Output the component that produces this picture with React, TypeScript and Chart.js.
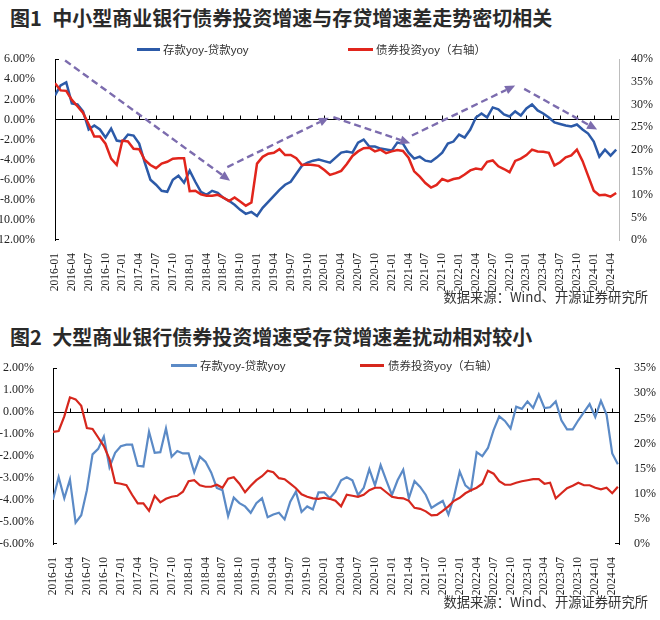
import React, { useEffect, useRef } from "react";
import { Chart, registerables } from "chart.js";

Chart.register(...registerables);

// ---------- data ----------
const months = [
  "2016-01","2016-02","2016-03","2016-04","2016-05","2016-06","2016-07","2016-08","2016-09","2016-10","2016-11","2016-12",
  "2017-01","2017-02","2017-03","2017-04","2017-05","2017-06","2017-07","2017-08","2017-09","2017-10","2017-11","2017-12",
  "2018-01","2018-02","2018-03","2018-04","2018-05","2018-06","2018-07","2018-08","2018-09","2018-10","2018-11","2018-12",
  "2019-01","2019-02","2019-03","2019-04","2019-05","2019-06","2019-07","2019-08","2019-09","2019-10","2019-11","2019-12",
  "2020-01","2020-02","2020-03","2020-04","2020-05","2020-06","2020-07","2020-08","2020-09","2020-10","2020-11","2020-12",
  "2021-01","2021-02","2021-03","2021-04","2021-05","2021-06","2021-07","2021-08","2021-09","2021-10","2021-11","2021-12",
  "2022-01","2022-02","2022-03","2022-04","2022-05","2022-06","2022-07","2022-08","2022-09","2022-10","2022-11","2022-12",
  "2023-01","2023-02","2023-03","2023-04","2023-05","2023-06","2023-07","2023-08","2023-09","2023-10","2023-11","2023-12",
  "2024-01","2024-02","2024-03","2024-04","2024-05",
];

// Figure 1: small & medium banks
const c1Spread = [2.4, 3.4, 3.7, 1.6, 1.5, 0.8, -1.0, -0.6, -1.0, -1.8, -0.9, -2.1, -2.2, -1.5, -1.6, -2.4, -4.3, -6.0, -6.5, -7.1, -7.2, -6.0, -5.6, -6.3, -5.1, -6.2, -7.2, -7.5, -7.1, -7.3, -7.8, -8.1, -8.5, -9.0, -9.4, -9.2, -9.6, -8.8, -8.2, -7.6, -7.0, -6.5, -6.2, -5.4, -4.6, -4.3, -4.1, -4.0, -4.15, -4.3, -3.8, -3.3, -3.2, -3.3, -2.3, -2.0, -2.7, -2.7, -2.9, -3.0, -3.1, -2.3, -2.4, -3.3, -3.9, -3.7, -4.1, -4.2, -3.8, -3.3, -2.4, -2.2, -1.5, -1.8, -1.0, 0.2, 0.6, 0.2, 1.2, 1.0, 0.5, 0.3, 0.8, 0.4, 1.1, 1.5, 0.9, 0.6, 0.2, -0.3, -0.45, -0.6, -0.7, -0.5, -1.0, -1.4, -2.2, -3.7, -3.0, -3.6, -3.0];
const c1Bond = [34.7, 33.1, 33.0, 31.0, 29.6, 28.1, 25.6, 22.9, 22.9, 21.3, 18.0, 16.6, 22.0, 21.8, 20.2, 20.1, 17.7, 16.6, 15.9, 16.9, 17.3, 18.0, 18.1, 18.1, 10.8, 10.9, 10.1, 9.8, 9.8, 10.0, 9.4, 8.6, 9.4, 8.5, 7.6, 8.3, 16.9, 18.4, 19.1, 19.3, 20.1, 18.8, 18.8, 18.1, 16.6, 16.7, 16.6, 16.4, 15.5, 14.4, 14.8, 15.3, 16.8, 18.6, 19.6, 20.3, 20.4, 19.6, 20.0, 19.2, 19.6, 19.9, 19.7, 18.2, 15.2, 14.0, 12.6, 11.6, 12.2, 13.5, 13.0, 13.5, 13.7, 14.5, 15.4, 15.8, 15.6, 17.3, 17.6, 16.3, 15.7, 15.0, 17.5, 18.0, 18.8, 20.0, 19.6, 19.5, 19.3, 16.5, 17.2, 18.3, 18.7, 20.0, 17.5, 14.2, 10.9, 9.9, 10.0, 9.6, 10.4];

// Figure 2: large banks
const c2Spread = [-3.99, -2.96, -3.92, -3.06, -5.03, -4.69, -3.55, -1.92, -1.67, -1.11, -2.51, -1.85, -1.55, -1.48, -1.48, -2.44, -2.47, -0.89, -1.85, -1.82, -0.74, -2.03, -1.77, -1.88, -1.88, -2.74, -2.03, -2.26, -2.74, -3.45, -3.55, -4.73, -3.89, -4.14, -4.29, -4.58, -4.14, -3.92, -4.78, -4.66, -4.58, -4.88, -4.07, -3.62, -4.54, -4.29, -4.43, -3.65, -3.65, -3.92, -3.62, -3.10, -2.96, -3.10, -3.77, -3.45, -2.59, -3.33, -2.41, -3.10, -3.77, -3.10, -2.62, -3.92, -3.14, -3.40, -3.77, -4.36, -4.19, -4.04, -4.66, -3.84, -2.71, -3.33, -3.55, -1.82, -2.00, -1.63, -0.82, -0.19, -0.40, -0.74, 0.25, 0.15, 0.49, 0.19, 0.81, 0.19, 0.22, 0.49, -0.37, -0.78, -0.78, -0.37, 0.0, 0.37, -0.22, 0.51, -0.11, -1.88, -2.37];
const c2Bond = [22.3, 22.5, 25.4, 29.2, 28.8, 27.5, 23.1, 22.9, 21.2, 19.5, 16.9, 12.2, 12.0, 11.7, 9.8, 8.1, 8.1, 6.6, 9.6, 8.3, 9.0, 9.4, 9.6, 10.4, 12.5, 12.7, 11.7, 11.4, 11.4, 11.8, 11.2, 13.0, 13.3, 12.0, 10.3, 11.6, 12.7, 13.5, 14.6, 14.3, 13.1, 12.9, 12.0, 11.1, 9.9, 9.4, 9.1, 9.0, 9.2, 9.0, 8.6, 7.5, 9.8, 9.6, 9.4, 9.8, 10.7, 11.2, 11.2, 10.3, 9.4, 9.2, 9.1, 8.6, 7.2, 7.0, 6.5, 5.7, 5.8, 6.6, 7.5, 8.6, 9.2, 10.1, 10.7, 11.2, 12.0, 14.6, 14.0, 12.5, 11.8, 11.8, 12.2, 12.5, 12.7, 12.9, 12.9, 12.0, 12.2, 9.1, 10.1, 11.1, 11.6, 12.2, 11.7, 11.7, 11.2, 10.9, 11.2, 10.1, 11.4];

// tick labels (as printed in the source figure)
const c1LeftValues = [6, 4, 2, 0, -2, -4, -6, -8, -10, -12];
const c1LeftLabels = ["6.00%", "4.00%", "2.00%", "0.00%", "-2.00%", "-4.00%", "-6.00%", "-8.00%", "10.00%", "12.00%"];
const c1RightValues = [40, 35, 30, 25, 20, 15, 10, 5, 0];
const c1RightLabels = ["40%", "35%", "30%", "25%", "20%", "15%", "10%", "5%", "0%"];
const c2LeftValues = [2, 1, 0, -1, -2, -3, -4, -5, -6];
const c2LeftLabels = ["2.00%", "1.00%", "0.00%", "-1.00%", "-2.00%", "-3.00%", "-4.00%", "-5.00%", "-6.00%"];
const c2RightValues = [35, 30, 25, 20, 15, 10, 5, 0];
const c2RightLabels = ["35%", "30%", "25%", "20%", "15%", "10%", "5%", "0%"];

const seriesNames = ["存款yoy-贷款yoy", "债券投资yoy（右轴）"];
const title1 = "图1 中小型商业银行债券投资增速与存贷增速差走势密切相关";
const title2 = "图2 大型商业银行债券投资增速受存贷增速差扰动相对较小";
const sourceText = "数据来源：Wind、开源证券研究所";

// trend arrows of figure 1: [start month index, start left-axis value, end month index, end left-axis value]
const c1Arrows = [
  [1.8, 5.87, 31.2, -6.1],
  [30.7, -4.74, 48.8, 0.18],
  [49.6, 0.22, 63.3, -2.37],
  [63.6, -1.6, 82.0, 3.37],
  [83.6, 3.05, 96.6, -1.01],
];

// ---------- chart helpers ----------
const labelIdx = months.map((_, i) => i).filter((i) => i % 3 === 0);
const serif = '"Liberation Serif", "Times New Roman", serif';

function makeDecor(cfg: any) {
  return {
    id: "decor",
    beforeDatasetsDraw(chart: any) {
      const { ctx, chartArea: ca, scales } = chart;
      const y0 = Math.round(scales.yL.getPixelForValue(0)) + 0.5;
      ctx.save();
      ctx.strokeStyle = "#000";
      ctx.lineWidth = 1;
      ctx.beginPath();
      ctx.moveTo(ca.left, y0);
      ctx.lineTo(ca.right, y0);
      for (const v of labelIdx) {
        if (v === 0) continue;
        const x = Math.round(scales.x.getPixelForValue(v)) + 0.5;
        ctx.moveTo(x, y0);
        ctx.lineTo(x, y0 - 4);
      }
      const t = Math.round(ca.top) + 0.5;
      const b = Math.round(ca.bottom) - 0.5;
      ctx.moveTo(ca.left, t);
      ctx.lineTo(ca.left + 4, t);
      ctx.moveTo(ca.left, b);
      ctx.lineTo(ca.left + 4, b);
      if (cfg.rightEndTicks) {
        ctx.moveTo(ca.right, t);
        ctx.lineTo(ca.right - 4, t);
        ctx.moveTo(ca.right, b);
        ctx.lineTo(ca.right - 4, b);
      }
      ctx.stroke();
      ctx.restore();
    },
    afterDatasetsDraw(chart: any) {
      if (!cfg.arrows) return;
      const { ctx, scales } = chart;
      ctx.save();
      ctx.strokeStyle = "#7c6cae";
      ctx.fillStyle = "#7c6cae";
      ctx.lineWidth = 2.4;
      for (const a of cfg.arrows) {
        const x1 = scales.x.getPixelForValue(a[0]);
        const y1 = scales.yL.getPixelForValue(a[1]);
        const x2 = scales.x.getPixelForValue(a[2]);
        const y2 = scales.yL.getPixelForValue(a[3]);
        const ang = Math.atan2(y2 - y1, x2 - x1);
        const c = Math.cos(ang), s = Math.sin(ang);
        const hl = 10, hw = 4.5;
        const bx = x2 - hl * c, by = y2 - hl * s;
        ctx.setLineDash([7, 4]);
        ctx.beginPath();
        ctx.moveTo(x1, y1);
        ctx.lineTo(bx, by);
        ctx.stroke();
        ctx.setLineDash([]);
        ctx.beginPath();
        ctx.moveTo(x2, y2);
        ctx.lineTo(bx - hw * s, by + hw * c);
        ctx.lineTo(bx + hw * s, by - hw * c);
        ctx.closePath();
        ctx.fill();
      }
      ctx.restore();
    },
  };
}

function lookup(values: number[], labels: string[]) {
  return (v: any) => {
    const i = values.findIndex((x) => Math.abs(x - Number(v)) < 1e-6);
    return i >= 0 ? labels[i] : "";
  };
}

function LineChart({ cfg }: { cfg: any }) {
  const ref = useRef<HTMLCanvasElement>(null);
  useEffect(() => {
    const font = { family: serif, size: 12 };
    const chart = new Chart(ref.current as HTMLCanvasElement, {
      type: "line",
      data: {
        datasets: [
          {
            label: seriesNames[0],
            data: cfg.spread.map((y: number, i: number) => ({ x: i, y })),
            yAxisID: "yL",
            borderColor: cfg.blue,
            borderWidth: cfg.lw,
            pointRadius: 0,
            tension: 0,
            order: 1,
          },
          {
            label: seriesNames[1],
            data: cfg.bond.map((y: number, i: number) => ({ x: i, y })),
            yAxisID: "yR",
            borderColor: cfg.red,
            borderWidth: cfg.lw,
            pointRadius: 0,
            tension: 0,
            order: 0,
          },
        ],
      },
      options: {
        responsive: false,
        animation: false,
        devicePixelRatio: 1,
        layout: { padding: { top: cfg.topPad, left: 0, right: 0, bottom: 0 } },
        plugins: { legend: { display: false }, tooltip: { enabled: false } },
        scales: {
          x: {
            type: "linear",
            min: 0,
            max: cfg.xMax,
            afterBuildTicks: (s: any) => {
              s.ticks = labelIdx.map((v) => ({ value: v }));
            },
            afterFit: (s: any) => {
              s.height = cfg.xHeight;
            },
            ticks: {
              autoSkip: false,
              minRotation: 90,
              maxRotation: 90,
              padding: 5,
              font: { family: serif, size: 11.5 },
              color: "#222",
              callback: (v: any) => months[Math.round(Number(v))] ?? "",
            },
            grid: { display: false },
            border: { display: false },
          },
          yL: {
            position: "left",
            min: cfg.lMin,
            max: cfg.lMax,
            afterFit: (s: any) => {
              s.width = cfg.lWidth;
            },
            ticks: {
              stepSize: cfg.lStep,
              padding: cfg.lPad,
              font,
              color: "#222",
              callback: lookup(cfg.lValues, cfg.lLabels),
            },
            grid: { display: false },
            border: { display: true, color: "#000", width: 1 },
          },
          yR: {
            position: "right",
            min: 0,
            max: cfg.rMax,
            afterFit: (s: any) => {
              s.width = cfg.rWidth;
            },
            ticks: {
              stepSize: 5,
              padding: cfg.rPad,
              font,
              color: "#222",
              callback: lookup(cfg.rValues, cfg.rLabels),
            },
            grid: { display: false },
            border: { display: true, color: cfg.rBorder, width: 1 },
          },
        },
      } as any,
      plugins: [makeDecor(cfg)],
    });
    return () => chart.destroy();
  }, []);
  return (
    <canvas
      ref={ref}
      width={660}
      height={cfg.h}
      style={{ position: "absolute", left: 0, top: cfg.top, width: 660, height: cfg.h }}
    />
  );
}

const chart1 = {
  top: 40, h: 255, topPad: 15, xHeight: 55, xMax: 100.5,
  spread: c1Spread, bond: c1Bond, blue: "#2c5aa8", red: "#e1251c", lw: 2.5,
  lMin: -12, lMax: 6, lStep: 2, lValues: c1LeftValues, lLabels: c1LeftLabels, lWidth: 55, lPad: 12,
  rMax: 40, rValues: c1RightValues, rLabels: c1RightLabels, rWidth: 41, rPad: 4, rBorder: "#bdbdbd",
  rightEndTicks: false, arrows: c1Arrows,
};

const chart2 = {
  top: 350, h: 250, topPad: 14, xHeight: 56, xMax: 100.2,
  spread: c2Spread, bond: c2Bond, blue: "#5b8ac6", red: "#d6271d", lw: 2.2,
  lMin: -6, lMax: 2, lStep: 1, lValues: c2LeftValues, lLabels: c2LeftLabels, lWidth: 53, lPad: 11,
  rMax: 35, rValues: c2RightValues, rLabels: c2RightLabels, rWidth: 41, rPad: 7, rBorder: "#000",
  rightEndTicks: true, arrows: null,
};

const titleStyle = (top: number): React.CSSProperties => ({
  position: "absolute",
  left: 10,
  top,
  fontFamily: '"Noto Sans CJK SC", sans-serif',
  fontWeight: 700,
  fontSize: 20,
  lineHeight: "20px",
  color: "#2a2a2a",
  whiteSpace: "nowrap",
  wordSpacing: 6,
});

const sourceStyle = (top: number): React.CSSProperties => ({
  position: "absolute",
  right: 12,
  top,
  fontFamily: '"Noto Sans CJK SC", sans-serif',
  fontSize: 13.3,
  lineHeight: "16px",
  color: "#333",
  whiteSpace: "nowrap",
});

function LegendItem({ x, y, lineW, color, text, textGap }: any) {
  return (
    <div
      style={{
        position: "absolute",
        left: x,
        top: y - 8,
        height: 16,
        display: "flex",
        alignItems: "center",
        whiteSpace: "nowrap",
        fontFamily: '"Liberation Sans", "Noto Sans CJK SC", sans-serif',
        fontSize: 11.5,
        color: "#333",
      }}
    >
      <span style={{ display: "inline-block", width: lineW, height: 3, background: color, marginRight: textGap }} />
      <span>{text}</span>
    </div>
  );
}

export default function App() {
  return (
    <div
      style={{
        position: "absolute",
        left: 0,
        top: 0,
        width: 660,
        height: 620,
        background: "#fff",
        overflow: "hidden",
      }}
    >
      <div style={titleStyle(8)}>{title1}</div>
      <LineChart cfg={chart1} />
      <LegendItem x={137} y={49} lineW={23} color={chart1.blue} text={seriesNames[0]} textGap={3} />
      <LegendItem x={348} y={49} lineW={25} color={chart1.red} text={seriesNames[1]} textGap={3} />
      <div style={sourceStyle(289)}>{sourceText}</div>

      <div style={titleStyle(327)}>{title2}</div>
      <LineChart cfg={chart2} />
      <LegendItem x={171} y={365} lineW={26} color={chart2.blue} text={seriesNames[0]} textGap={3} />
      <LegendItem x={360} y={365} lineW={24} color={chart2.red} text={seriesNames[1]} textGap={4} />
      <div style={sourceStyle(594)}>{sourceText}</div>
    </div>
  );
}
